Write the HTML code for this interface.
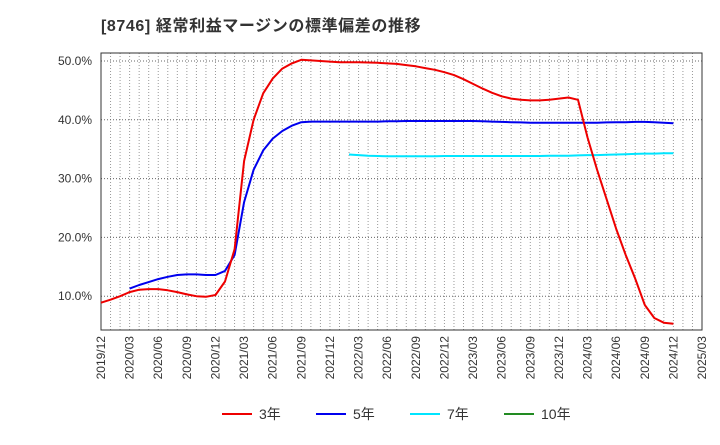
<!DOCTYPE html>
<html><head><meta charset="utf-8"><style>
body{margin:0;background:#fff;}
svg text{font-family:"Liberation Sans","Noto Sans CJK JP",sans-serif;}
</style></head><body>
<svg id="chart" width="720" height="440" xmlns="http://www.w3.org/2000/svg">
<text x="101" y="31" font-size="16" font-weight="bold" fill="#333" letter-spacing="0.6">[8746]  経常利益マージンの標準偏差の推移</text>
<g id="grid"></g>
<rect x="101" y="53" width="601" height="277" fill="none" stroke="#333" stroke-width="1"/>
<g id="series"></g>
<g id="ylabels"></g>
<g id="xlabels"></g>
<g id="legend"></g>
</svg>
<script>
const xTicks=["2019/12","2020/03","2020/06","2020/09","2020/12","2021/03","2021/06","2021/09","2021/12","2022/03","2022/06","2022/09","2022/12","2023/03","2023/06","2023/09","2023/12","2024/03","2024/06","2024/09","2024/12","2025/03"];
const yTicks=[10,20,30,40,50];
const s3=[8.9,9.4,10.0,10.7,11.1,11.2,11.2,11.0,10.7,10.3,10.0,9.9,10.2,12.5,18,33,40,44.5,47,48.7,49.6,50.2,50.1,50.0,49.9,49.8,49.8,49.8,49.75,49.7,49.6,49.5,49.3,49.1,48.8,48.5,48.1,47.6,46.9,46.1,45.3,44.6,44.0,43.6,43.4,43.3,43.3,43.4,43.6,43.8,43.4,37,31.5,26.5,21.5,17,13,8.5,6.3,5.5,5.3];
const s5Start=3;
const s5=[11.3,11.9,12.4,12.9,13.3,13.6,13.7,13.7,13.6,13.6,14.3,17,26,31.5,34.8,36.8,38.1,39,39.6,39.7,39.7,39.7,39.7,39.7,39.7,39.7,39.7,39.75,39.75,39.8,39.8,39.8,39.8,39.8,39.8,39.8,39.8,39.75,39.7,39.65,39.6,39.55,39.5,39.5,39.5,39.5,39.5,39.5,39.5,39.5,39.55,39.6,39.6,39.65,39.65,39.6,39.5,39.4];
const s7Start=26;
const s7=[34.1,34.0,33.9,33.85,33.8,33.8,33.8,33.8,33.8,33.8,33.85,33.85,33.85,33.85,33.85,33.85,33.85,33.85,33.85,33.85,33.85,33.9,33.9,33.9,33.95,34.0,34.0,34.05,34.1,34.15,34.2,34.25,34.25,34.3,34.3];
const NS="http://www.w3.org/2000/svg";
const X0=101,X1=702,months=63;
const x=i=>X0+i*(X1-X0)/months;
const y=v=>355-v*5.88;
function mk(tag,attrs,parent){const e=document.createElementNS(NS,tag);for(const k in attrs)e.setAttribute(k,attrs[k]);parent.appendChild(e);return e;}
const grid=document.getElementById('grid');
for(let i=1;i<months;i++){
 const l=mk('line',{x1:x(i),x2:x(i),y1:53,y2:330,stroke:'#999','stroke-dasharray':'1,2','stroke-width':1},grid);
 
 
}
const yl=document.getElementById('ylabels');
yTicks.forEach(v=>{
 const l=mk('line',{x1:101,x2:702,y1:y(v),y2:y(v),stroke:'#666','stroke-dasharray':'1,2','stroke-width':1},grid);
 
 
 const t=mk('text',{x:92,y:y(v)+4,'text-anchor':'end','font-size':12,fill:'#333'},yl);
 t.textContent=v.toFixed(1)+'%';
 
 
});
const xl=document.getElementById('xlabels');
xTicks.forEach((s,k)=>{
 const xx=x(k*3)+4;
 const t=mk('text',{x:0,y:0,'text-anchor':'end','font-size':12,fill:'#333',transform:`translate(${xx},336) rotate(-90)`},xl);
 t.textContent=s;
 
 
});
const ser=document.getElementById('series');
function line(arr,start,color,name){
 const d=arr.map((v,i)=>(i?'L':'M')+x(start+i).toFixed(1)+','+y(v).toFixed(1)).join('');
 const p=mk('path',{d:d,fill:'none',stroke:color,'stroke-width':2,'stroke-linejoin':'round'},ser);
 
 
}
line(s7,s7Start,'#00e5ff','line-7y');
line(s5,s5Start,'#0000ee','line-5y');
line(s3,0,'#ee0000','line-3y');
const lg=document.getElementById('legend');
[['3年','#ee0000',222],['5年','#0000ee',316],['7年','#00e5ff',410],['10年','#228b22',504]].forEach(([n,c,lx])=>{
 const g=mk('g',{},lg);
 
 
 mk('line',{x1:lx,x2:lx+30,y1:414,y2:414,stroke:c,'stroke-width':2},g);
 const t=mk('text',{x:lx+37,y:419,'font-size':14,fill:'#333'},g);
 t.textContent=n;
});
</script>
</body></html>
